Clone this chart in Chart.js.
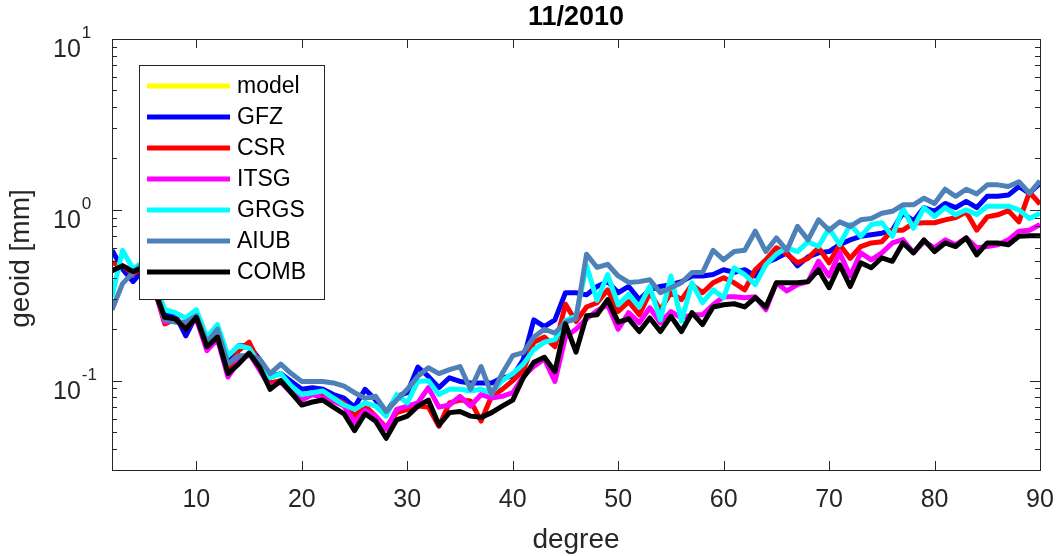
<!DOCTYPE html>
<html>
<head>
<meta charset="utf-8">
<script src="https://cdn.jsdelivr.net/npm/chart.js@4.4.0/dist/chart.umd.min.js"></script>
<style>
  html, body { margin: 0; background: #fff; }
  #wrap { width: 1056px; height: 556px; }
</style>
</head>
<body>
<div id="wrap"><canvas id="chart" width="1056" height="556"></canvas></div>
<script>
// spherical harmonic degree 2..90
const degrees = [2, 3, 4, 5, 6, 7, 8, 9, 10, 11, 12, 13, 14, 15, 16, 17, 18, 19, 20,
  21, 22, 23, 24, 25, 26, 27, 28, 29, 30, 31, 32, 33, 34, 35, 36, 37, 38, 39, 40,
  41, 42, 43, 44, 45, 46, 47, 48, 49, 50, 51, 52, 53, 54, 55, 56, 57, 58, 59, 60,
  61, 62, 63, 64, 65, 66, 67, 68, 69, 70, 71, 72, 73, 74, 75, 76, 77, 78, 79, 80,
  81, 82, 83, 84, 85, 86, 87, 88, 89, 90];

// geoid degree amplitudes [mm]
const model = []; // not visible in the picture (hidden / off scale)

const gfz = [0.58, 0.45, 0.38, 0.45, 0.36, 0.243, 0.243, 0.183, 0.243, 0.168, 0.18, 0.135, 0.16, 0.16, 0.133, 0.106, 0.11, 0.099, 0.089,
  0.091, 0.089, 0.083, 0.079, 0.07, 0.089, 0.077, 0.065, 0.081, 0.085, 0.12, 0.106, 0.091, 0.104, 0.099, 0.097, 0.097, 0.097, 0.104, 0.106,
  0.133, 0.227, 0.207, 0.227, 0.327, 0.327, 0.318, 0.356, 0.38, 0.327, 0.356, 0.298, 0.34, 0.356, 0.365, 0.38, 0.41, 0.41, 0.418, 0.446,
  0.43, 0.446, 0.41, 0.49, 0.52, 0.56, 0.47, 0.53, 0.56, 0.57, 0.625, 0.667, 0.7, 0.714, 0.73, 0.76, 0.96, 0.86, 1.03, 0.98,
  1.09, 1.03, 1.12, 1.03, 1.2, 1.2, 1.22, 1.37, 1.25, 1.43];

const csr = [0.49, 0.47, 0.42, 0.47, 0.35, 0.215, 0.23, 0.21, 0.235, 0.16, 0.18, 0.115, 0.15, 0.168, 0.125, 0.097, 0.1, 0.089, 0.079,
  0.085, 0.083, 0.079, 0.074, 0.062, 0.071, 0.062, 0.053, 0.065, 0.068, 0.071, 0.07, 0.054, 0.074, 0.077, 0.076, 0.058, 0.081, 0.089, 0.1,
  0.115, 0.168, 0.18, 0.158, 0.28, 0.222, 0.27, 0.286, 0.34, 0.254, 0.29, 0.243, 0.327, 0.26, 0.327, 0.298, 0.365, 0.327, 0.374, 0.4,
  0.374, 0.34, 0.446, 0.51, 0.6, 0.55, 0.49, 0.52, 0.6, 0.49, 0.625, 0.52, 0.61, 0.64, 0.65, 0.76, 0.76, 0.835, 0.84, 0.84,
  0.874, 0.9, 0.97, 0.76, 0.91, 0.935, 0.99, 0.85, 1.27, 1.08];

const itsg = [0.44, 0.47, 0.44, 0.47, 0.35, 0.22, 0.23, 0.2, 0.23, 0.15, 0.175, 0.105, 0.13, 0.145, 0.115, 0.092, 0.098, 0.085, 0.077,
  0.083, 0.079, 0.076, 0.071, 0.057, 0.067, 0.062, 0.052, 0.068, 0.071, 0.074, 0.091, 0.07, 0.072, 0.081, 0.071, 0.083, 0.079, 0.081, 0.085,
  0.106, 0.121, 0.134, 0.099, 0.18, 0.2, 0.23, 0.257, 0.278, 0.2, 0.25, 0.218, 0.267, 0.218, 0.254, 0.233, 0.243, 0.243, 0.278, 0.31,
  0.31, 0.306, 0.31, 0.26, 0.374, 0.335, 0.365, 0.38, 0.5, 0.41, 0.56, 0.41, 0.56, 0.51, 0.56, 0.64, 0.67, 0.56, 0.65, 0.6,
  0.667, 0.625, 0.685, 0.6, 0.61, 0.625, 0.667, 0.75, 0.76, 0.82];

const grgs = [0.31, 0.58, 0.45, 0.5, 0.38, 0.26, 0.25, 0.233, 0.26, 0.18, 0.213, 0.14, 0.16, 0.155, 0.125, 0.104, 0.11, 0.093, 0.083,
  0.085, 0.087, 0.079, 0.072, 0.068, 0.074, 0.071, 0.062, 0.083, 0.074, 0.099, 0.1, 0.083, 0.089, 0.089, 0.087, 0.089, 0.085, 0.1, 0.11,
  0.125, 0.152, 0.168, 0.174, 0.225, 0.24, 0.47, 0.295, 0.418, 0.278, 0.32, 0.27, 0.356, 0.227, 0.41, 0.223, 0.374, 0.286, 0.34, 0.306,
  0.458, 0.418, 0.365, 0.477, 0.55, 0.6, 0.57, 0.65, 0.61, 0.78, 0.625, 0.82, 0.7, 0.82, 0.84, 0.7, 1.02, 0.78, 1.03, 0.914,
  1.03, 0.935, 1.0, 0.94, 1.05, 1.05, 1.05, 1.0, 0.89, 0.956];

const aiub = [0.26, 0.37, 0.43, 0.49, 0.38, 0.227, 0.22, 0.22, 0.24, 0.168, 0.2, 0.125, 0.14, 0.14, 0.134, 0.11, 0.125, 0.11, 0.099,
  0.099, 0.099, 0.097, 0.093, 0.085, 0.079, 0.081, 0.066, 0.077, 0.089, 0.106, 0.119, 0.11, 0.116, 0.121, 0.089, 0.121, 0.083, 0.11, 0.14,
  0.146, 0.18, 0.2, 0.19, 0.22, 0.23, 0.55, 0.46, 0.48, 0.41, 0.376, 0.38, 0.39, 0.327, 0.35, 0.374, 0.43, 0.43, 0.58, 0.51,
  0.57, 0.58, 0.75, 0.57, 0.685, 0.58, 0.8, 0.667, 0.874, 0.76, 0.85, 0.8, 0.874, 0.89, 0.956, 0.98, 1.07, 1.07, 1.17, 1.09,
  1.32, 1.2, 1.32, 1.24, 1.4, 1.4, 1.37, 1.46, 1.25, 1.48];

const comb = [0.44, 0.47, 0.435, 0.46, 0.34, 0.235, 0.23, 0.2, 0.235, 0.158, 0.18, 0.11, 0.125, 0.145, 0.12, 0.089, 0.1, 0.085, 0.072,
  0.075, 0.077, 0.07, 0.064, 0.051, 0.064, 0.058, 0.046, 0.059, 0.062, 0.071, 0.077, 0.055, 0.065, 0.066, 0.062, 0.061, 0.065, 0.071, 0.077,
  0.104, 0.128, 0.137, 0.113, 0.215, 0.147, 0.24, 0.243, 0.298, 0.22, 0.23, 0.194, 0.233, 0.194, 0.238, 0.194, 0.25, 0.213, 0.27, 0.278,
  0.282, 0.27, 0.306, 0.27, 0.374, 0.374, 0.374, 0.38, 0.446, 0.35, 0.477, 0.356, 0.49, 0.458, 0.524, 0.5, 0.64, 0.56, 0.667, 0.57,
  0.64, 0.61, 0.685, 0.545, 0.64, 0.64, 0.625, 0.7, 0.705, 0.705];

const seriesNames = ['model', 'GFZ', 'CSR', 'ITSG', 'GRGS', 'AIUB', 'COMB'];
const seriesColors = ['#ffff00', '#0000ff', '#ff0000', '#ff00ff', '#00ffff', '#4f81b9', '#000000'];
const seriesValues = [model, gfz, csr, itsg, grgs, aiub, comb];

const xTicks = [10, 20, 30, 40, 50, 60, 70, 80, 90];
const yMajorTicks = [0.1, 1, 10];
const yMinorTicks = [0.04, 0.05, 0.06, 0.07, 0.08, 0.09, 0.2, 0.3, 0.4, 0.5, 0.6, 0.7, 0.8, 0.9,
  2, 3, 4, 5, 6, 7, 8, 9];

const FONT = '"Liberation Sans", Arial, Helvetica, sans-serif';
const AXIS = '#262626';

// axes box, inward ticks, tick labels, axis titles and legend (MATLAB look)
const axesFrame = {
  id: 'axesFrame',
  afterDatasetsDraw(chart) {
    const ctx = chart.ctx;
    const a = chart.chartArea;
    const xs = chart.scales.x, ys = chart.scales.y;
    ctx.save();
    ctx.strokeStyle = AXIS;
    ctx.lineWidth = 1;
    ctx.beginPath();
    xTicks.forEach(v => {
      const px = Math.round(xs.getPixelForValue(v)) + 0.5;
      ctx.moveTo(px, a.bottom); ctx.lineTo(px, a.bottom - 9);
      ctx.moveTo(px, a.top); ctx.lineTo(px, a.top + 9);
    });
    yMajorTicks.forEach(v => {
      const py = Math.round(ys.getPixelForValue(v)) + 0.5;
      ctx.moveTo(a.left, py); ctx.lineTo(a.left + 10, py);
      ctx.moveTo(a.right, py); ctx.lineTo(a.right - 10, py);
    });
    yMinorTicks.forEach(v => {
      const py = Math.round(ys.getPixelForValue(v)) + 0.5;
      ctx.moveTo(a.left, py); ctx.lineTo(a.left + 5, py);
      ctx.moveTo(a.right, py); ctx.lineTo(a.right - 5, py);
    });
    ctx.stroke();
    ctx.strokeRect(Math.round(a.left) + 0.5, Math.round(a.top) + 0.5,
      Math.round(a.right - a.left), Math.round(a.bottom - a.top));

    // x tick labels
    ctx.fillStyle = AXIS;
    ctx.font = '25px ' + FONT;
    ctx.textAlign = 'center';
    ctx.textBaseline = 'alphabetic';
    xTicks.forEach(v => ctx.fillText(String(v), xs.getPixelForValue(v), a.bottom + 37));

    // y tick labels 10^n
    yMajorTicks.forEach(v => {
      const py = ys.getPixelForValue(v);
      const exp = String(Math.round(Math.log10(v)));
      ctx.textAlign = 'left';
      ctx.textBaseline = 'alphabetic';
      ctx.font = '25px ' + FONT;
      const bw = ctx.measureText('10').width;
      ctx.fillText('10', 53, py + 18);
      ctx.font = '17px ' + FONT;
      ctx.fillText(exp, 53 + bw + 1, py - 1);
    });

    // axis titles
    ctx.font = '28px ' + FONT;
    ctx.textAlign = 'center';
    ctx.textBaseline = 'alphabetic';
    ctx.fillText('degree', (a.left + a.right) / 2, a.bottom + 78);
    ctx.save();
    ctx.translate(29, (a.top + a.bottom) / 2 + 4);
    ctx.rotate(-Math.PI / 2);
    ctx.fillText('geoid [mm]', 0, 0);
    ctx.restore();

    ctx.fillStyle = '#000';
    ctx.font = 'bold 27px ' + FONT;
    ctx.fillText('11/2010', (a.left + a.right) / 2, 25);

    // legend inside the axes, upper left
    const lx = a.left + 27, ly = a.top + 26, lw = 185, lh = 234;
    ctx.fillStyle = '#fff';
    ctx.fillRect(lx, ly, lw, lh);
    ctx.strokeStyle = AXIS;
    ctx.lineWidth = 1;
    ctx.strokeRect(lx + 0.5, ly + 0.5, lw, lh);
    ctx.font = '23px ' + FONT;
    ctx.textAlign = 'left';
    ctx.textBaseline = 'middle';
    chart.data.datasets.forEach((ds, i) => {
      const ry = ly + 21 + i * 31;
      ctx.strokeStyle = ds.borderColor;
      ctx.lineWidth = 5;
      ctx.beginPath();
      ctx.moveTo(lx + 8, ry); ctx.lineTo(lx + 91, ry);
      ctx.stroke();
      ctx.fillStyle = '#000';
      ctx.fillText(ds.label, lx + 98, ry + 1);
    });
    ctx.restore();
  }
};

new Chart(document.getElementById('chart'), {
  type: 'line',
  data: {
    datasets: seriesNames.map((name, i) => ({
      label: name,
      data: seriesValues[i].map((v, j) => ({ x: degrees[j], y: v })),
      borderColor: seriesColors[i],
      backgroundColor: seriesColors[i],
      borderWidth: 5,
      borderJoinStyle: 'round',
      pointRadius: 0,
      tension: 0,
      order: seriesNames.length - i // later series on top, like MATLAB
    }))
  },
  options: {
    responsive: false,
    animation: false,
    devicePixelRatio: 1,
    layout: { padding: { left: 112, right: 16, top: 39, bottom: 86 } },
    plugins: { legend: { display: false }, tooltip: { enabled: false } },
    scales: {
      x: { type: 'linear', min: 2, max: 90, display: false },
      y: { type: 'logarithmic', min: 0.03, max: 10, display: false }
    }
  },
  plugins: [axesFrame]
});
</script>
</body>
</html>
